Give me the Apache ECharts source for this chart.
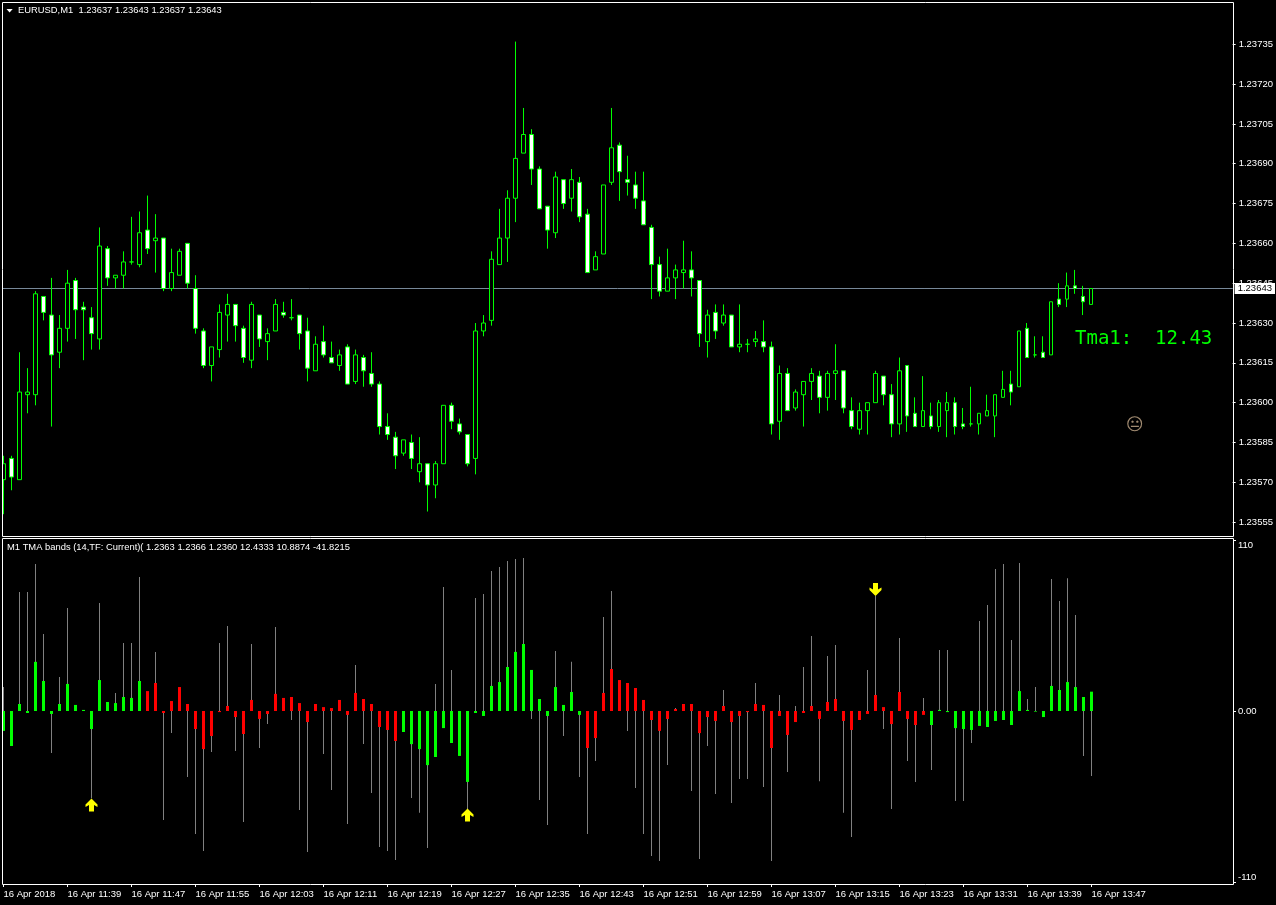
<!DOCTYPE html>
<html><head><meta charset="utf-8">
<style>html,body{margin:0;padding:0;background:#000}#c{width:1276px;height:905px}</style>
<script src="https://cdn.jsdelivr.net/npm/echarts@6/dist/echarts.min.js"></script>
</head><body><div id="c"></div>
<script>
// Prices in 1/100000 units (add to 1.23000)
const opens = [571,579,571,603,603,640,633,619,628,646,636,632,624,658,647,648,653,652,665,661,662,643,648,660,643,627,614,620,633,637,628,616,633,623,627,634,632,633,627,612,
623,617,614,621,608,617,611,607,591,587,581,585,574,577,569,577,599,592,588,579,627,631,652,662,677,694,701,688,674,664,684,677,683,671,650,656,683,697,684,682,
676,666,652,642,647,649,650,646,623,634,630,633,621,622,623,623,621,593,611,598,603,608,610,602,611,612,597,590,597,600,610,603,592,614,596,591,595,591,597,600,
592,592,592,595,595,602,607,606,628,618,619,618,639,639,644,640,637];
const closes = [577,572,604,604,641,634,618,628,645,635,635,626,659,647,648,653,653,664,658,662,643,649,657,645,628,614,621,634,637,629,617,637,624,626,637,633,632,626,613,622,
618,615,618,607,618,612,607,591,588,580,586,579,577,569,577,599,593,589,577,627,630,654,662,677,692,701,688,673,665,685,675,684,670,649,655,682,696,687,683,677,
667,652,642,647,650,650,647,626,633,627,633,621,622,622,624,621,592,611,597,604,608,611,602,611,612,598,591,597,600,611,603,592,612,595,591,597,591,600,600,591,
591,592,596,597,603,605,604,627,617,618,617,638,637,644,643,638,643];
const lows = [558,567,571,596,599,631,591,613,623,624,616,620,620,644,643,643,652,651,656,649,642,642,648,643,626,613,608,617,623,623,615,613,621,616,627,632,631,620,608,612,
617,615,612,607,607,606,606,588,586,575,580,575,570,559,564,577,590,588,576,573,625,629,652,653,668,694,682,673,658,662,673,672,668,649,650,656,682,676,678,673,
667,639,640,642,639,643,640,621,617,624,629,621,619,619,621,619,588,586,597,597,591,601,596,597,601,596,590,588,588,600,599,587,588,589,591,591,590,589,587,588,
590,591,588,595,587,602,599,606,617,617,617,618,636,636,641,633,637];
const highs = [580,580,619,613,642,640,647,633,650,647,638,636,666,659,648,657,670,672,678,671,662,658,658,660,648,628,621,637,641,637,629,638,633,628,639,638,639,633,632,625,
629,623,620,622,620,618,619,608,596,589,586,588,587,577,578,599,600,594,588,630,633,657,673,680,736,711,703,689,674,687,684,688,685,673,657,682,711,698,693,687,
687,667,655,658,652,661,657,646,635,637,637,633,637,624,627,631,623,614,613,605,608,613,612,612,622,612,602,600,600,612,610,607,617,614,602,610,600,601,604,602,
598,606,596,603,603,612,612,627,630,625,625,638,645,649,650,644,643];
// Indicator
const histValues = [-12.8,-22.5,4.5,-1.3,31.6,19.3,-1.9,4.5,17.4,3.9,0.7,-11.6,19.9,5.8,5.1,9,8.4,19.3,12.8,18,-1.3,6.4,15.4,4.5,-11.6,-24.5,-16.1,-0.7,3.2,-3.9,-14.8,7.1,-5.1,-1.9,11,8.4,9,5.1,-7.1,4.5,
2.5,1.9,7.1,-2.5,11.6,7.7,4.5,-10.3,-12.2,-19.3,-13.5,-21.3,-24.5,-34.8,-29.6,-11,-20.6,-28.9,-45.6,-1.3,-3.2,16.1,18.6,28.3,38,43.1,26.4,7.7,-3.2,15.4,3.9,12.2,-2.5,-23.8,-17.4,11.6,27,19.9,18,14.8,
7.1,-5.8,-12.8,-5.1,1.3,4.5,4.5,-14.2,-3.9,-6.4,3.2,-7.1,-3.2,-0.7,4.5,3.9,-23.8,-3.2,-15.4,-7.1,-1.3,3.2,-5.1,5.8,7.7,-6.4,-12.2,-5.8,-1.9,10.3,2.5,-8.4,12.2,-5.1,-9,-2.5,-9,0.7,-0.7,-11,
-11.6,-12.2,-9.6,-10.3,-6.4,-5.8,-9,12.8,0.7,-0.4,-3.9,16.1,13.5,18.6,15.4,9,12.43];
// 1 = green bar, 0 = red bar
const histIsGreen = [1,1,1,1,1,1,1,1,1,1,1,1,1,1,1,1,1,1,0,0,0,0,0,0,0,0,0,0,0,0,0,0,0,0,0,0,0,0,0,0,
0,0,0,0,0,0,0,0,0,0,1,1,1,1,1,1,1,1,1,1,1,1,1,1,1,1,1,1,1,1,1,1,1,0,0,0,0,0,0,0,
0,0,0,0,0,0,0,0,0,0,0,0,0,0,0,0,0,0,0,0,0,0,0,0,0,0,0,0,0,0,0,0,0,0,0,0,1,1,1,1,
1,1,1,1,1,1,1,1,1,1,1,1,1,1,1,1,1];
const bandValues = [15.4,0,76.5,76.5,94.6,49.5,-27,21.8,66.2,0,0,-56.1,69.4,0,11.6,43.7,43.7,86.1,0,37.9,-70.1,-14.2,0,-42.4,-79.1,-90,-26.4,43.7,54.7,-25.7,-71.4,43.1,-23.8,-8.4,54,0,-5.8,-63.7,-90.7,0,
-27.7,-50.8,0,-72.6,29.6,-21.3,-52.7,-87.5,-90,-95.8,0,-55.9,-65.5,-88.1,17.4,79.7,26.4,0,-63.7,72.6,75.3,90,92.6,96.4,97.8,98.4,-5.1,-57.2,-73.3,38.5,-16.1,31.6,-42.4,-79.1,-32.1,60.5,77.2,14.2,-12.8,-49.5,
-79.1,-93.2,-96.4,-34.8,1.9,0,-51.5,-95.2,-22.5,-53.4,13.5,-59.1,-43.7,-43.7,18,-48.8,-96.4,10.3,-39.2,3.2,28.3,48.3,-45.1,35.3,42.4,-65.5,-81,0,26.4,74,-11.6,-63,46.9,-32.1,-45.6,8.4,-38,39.2,39.2,-57.9,
-57.9,-20.6,57.9,68.2,91.3,94.6,45.6,95.2,7.7,15.4,0,84.9,70.7,85.4,61.8,-28.9,-41.82];
// Signal arrows [bar index, level]
const arrowsUp = [[11,-60.5],[58,-66.9]];
const arrowsDown = [[109,78.1]];
// Axis text
const timeLabels = ['16 Apr 2018','16 Apr 11:39','16 Apr 11:47','16 Apr 11:55','16 Apr 12:03','16 Apr 12:11','16 Apr 12:19','16 Apr 12:27','16 Apr 12:35','16 Apr 12:43','16 Apr 12:51','16 Apr 12:59','16 Apr 13:07','16 Apr 13:15','16 Apr 13:23','16 Apr 13:31','16 Apr 13:39','16 Apr 13:47'];
const priceTicks = [1.23555,1.23570,1.23585,1.23600,1.23615,1.23630,1.23645,1.23660,1.23675,1.23690,1.23705,1.23720,1.23735];
const lastPrice = 1.23643;
const oscTicks = [-110,0,110];

const FONT = '"Liberation Sans"', W = '#ffffff', LIME = '#00ff00';
const xMin = -0.1875, xMax = 153.6875;
const tickIdx = timeLabels.map((_, k) => k * 8);
const chart = echarts.init(document.getElementById('c'), null, {renderer:'canvas'});
const toPrice = v => +(1.23 + v / 100000).toFixed(5);
const candle = opens.map((o, i) => [i, toPrice(o), toPrice(closes[i]), toPrice(lows[i]), toPrice(highs[i])]);
const hist = histValues.map((v, i) => ({value:[i, v], itemStyle:{color: histIsGreen[i] ? LIME : '#ff0000'}}));
const band = bandValues.map((v, i) => [i, v]);
const arrowPath = 'path://M6 0 L12 6 L12 8.5 L8.5 6.5 L8.5 13 L3.5 13 L3.5 6.5 L0 8.5 L0 6 Z';

chart.setOption({
  animation:false,
  backgroundColor:'#000000',
  textStyle:{fontFamily:FONT},
  title:[
    {text:'EURUSD,M1  1.23637 1.23643 1.23637 1.23643', left:13, top:1, textStyle:{color:W, fontSize:9.4, fontWeight:'normal', fontFamily:FONT}},
    {text:'M1 TMA bands (14,TF: Current)( 1.2363 1.2366 1.2360 12.4333 10.8874 -41.8215', left:2, top:538, textStyle:{color:W, fontSize:9.4, fontWeight:'normal', fontFamily:FONT}}
  ],
  grid:[
    {left:2, width:1231, top:2, height:534, show:false},
    {left:2, width:1231, top:539, height:345, show:false}
  ],
  xAxis:[
    {type:'value', gridIndex:0, min:xMin, max:xMax, show:false},
    {type:'value', gridIndex:1, min:xMin, max:xMax, position:'bottom', splitLine:{show:false},
      axisLine:{show:false, onZero:false},
      axisTick:{show:true, length:3, customValues:tickIdx, lineStyle:{color:W}},
      axisLabel:{show:true, customValues:tickIdx, color:W, fontSize:9.5, fontFamily:FONT, align:'left', margin:5, hideOverlap:false,
        formatter:v => timeLabels[Math.round(v / 8)] || ''}},
    {type:'value', gridIndex:1, min:xMin, max:xMax, show:false}
  ],
  yAxis:[
    {type:'value', gridIndex:0, position:'right', min:1.2354978, max:1.2375091, splitLine:{show:false},
      axisLine:{show:false, onZero:false}, axisTick:{show:true, length:3, customValues:priceTicks, lineStyle:{color:W}},
      axisLabel:{show:true, customValues:priceTicks, color:W, fontSize:9.5, fontFamily:FONT, margin:6, hideOverlap:false, formatter:v => v.toFixed(5)}},
    {type:'value', gridIndex:1, position:'right', min:-111.25, max:110.6, splitLine:{show:false},
      axisLine:{show:false, onZero:false}, axisTick:{show:true, length:3, customValues:oscTicks, lineStyle:{color:W}},
      axisLabel:{show:true, customValues:oscTicks, color:W, fontSize:9.5, fontFamily:FONT, margin:5, hideOverlap:false,
        verticalAlignMinLabel:'bottom', verticalAlignMaxLabel:'top', formatter:v => v === 0 ? '0.00' : String(v)}},
    {type:'value', gridIndex:1, position:'right', min:-111.25, max:110.6, show:false}
  ],
  series:[
    {type:'line', xAxisIndex:0, yAxisIndex:0, data:[[xMin,lastPrice],[xMax,lastPrice]], symbol:'none', silent:true, z:1,
      lineStyle:{color:'#778899', width:1},
      endLabel:{show:true, distance:2, formatter:() => lastPrice.toFixed(5), color:'#000', backgroundColor:'#fff', fontSize:9.5, fontFamily:FONT, lineHeight:11, padding:[0,3,0,3]}},
    {type:'candlestick', xAxisIndex:0, yAxisIndex:0, data:candle, encode:{x:0, y:[1,2,3,4]}, barWidth:4, clip:true, z:2,
      itemStyle:{color:'#000000', color0:'#ffffff', borderColor:LIME, borderColor0:LIME, borderColorDoji:LIME, borderWidth:1}},
    {type:'bar', xAxisIndex:2, yAxisIndex:2, data:band, barWidth:1, itemStyle:{color:'#808080'}, z:2},
    {type:'bar', xAxisIndex:1, yAxisIndex:1, data:hist, barWidth:3, z:3},
    {type:'scatter', xAxisIndex:1, yAxisIndex:1, data:arrowsUp, symbol:arrowPath, symbolSize:[12,13], itemStyle:{color:'#ffff00', opacity:1}, z:5},
    {type:'scatter', xAxisIndex:1, yAxisIndex:1, data:arrowsDown, symbol:arrowPath, symbolSize:[12,13], symbolRotate:180, itemStyle:{color:'#ffff00', opacity:1}, z:5}
  ],
  graphic:[
    {type:'rect', z:100, shape:{x:0, y:0, width:2, height:905}, style:{fill:'#000'}},
    {type:'rect', z:101, shape:{x:2.5, y:2.5, width:1231, height:534}, style:{fill:null, stroke:W, lineWidth:1}},
    {type:'rect', z:101, shape:{x:2.5, y:538.5, width:1231, height:346}, style:{fill:null, stroke:W, lineWidth:1}},
    {type:'polygon', z:101, shape:{points:[[6.5,9],[12.7,9],[9.6,12.5]]}, style:{fill:W}},
    {type:'text', z:101, x:1075, y:330, style:{text:'Tma1:  12.43', fill:LIME, font:'19px "DejaVu Sans Mono"'}},
    {type:'text', z:101, x:1126, y:417, style:{text:'😐', fill:'#a08a70', font:'17px "DejaVu Sans"'}}
  ]
});
</script></body></html>
